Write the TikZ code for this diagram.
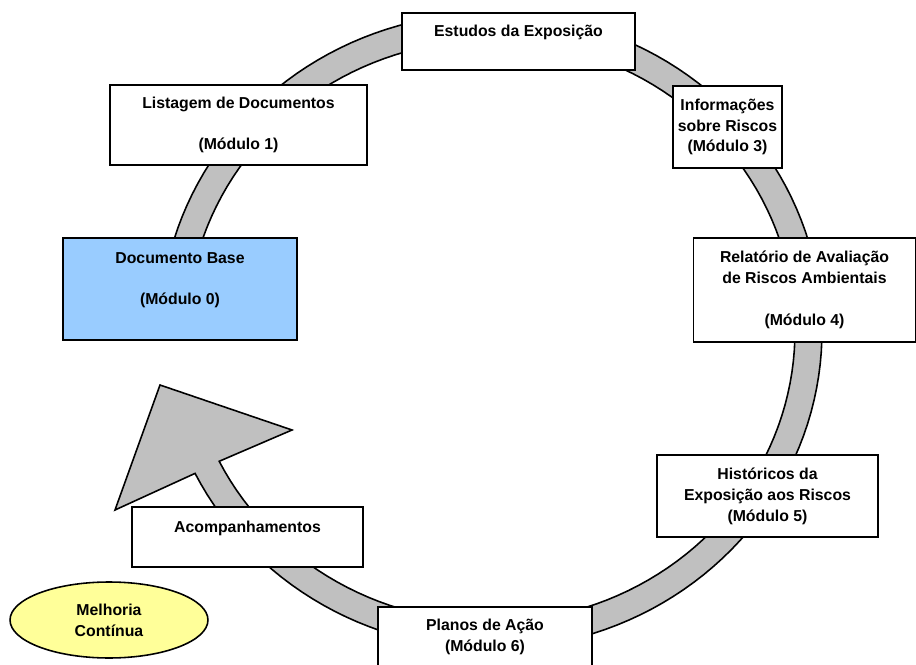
\documentclass[tikz,border=0pt]{standalone}
\usepackage{fontspec}
\setmainfont{Liberation Sans}
\usetikzlibrary{shapes.geometric}
\definecolor{ringgray}{HTML}{C0C0C0}
\definecolor{baseblue}{HTML}{99CCFF}
\definecolor{noteyellow}{HTML}{FFFF99}
\tikzset{
  modbox/.style={draw, line width=0.9pt, fill=white, align=center, inner sep=0pt,
    font=\fontsize{9}{11.9}\selectfont\bfseries},
  noteoval/.style={modbox, ellipse, fill=noteyellow}
}
\begin{document}
\begin{tikzpicture}[x=0.02cm, y=-0.02cm]

  \useasboundingbox (0,0) rectangle (916,665);

  % The ring
  \def \cx {491}
  \def \cy {331}
  \def \rxOut {331}
  \def \ryOut {318}
  \def \rxIn {304}
  \def \ryIn {291}
  \def \tStart {185.6}
  \def \tEnd {513.4}
  \filldraw[fill=ringgray, line width=0.9pt, line join=miter]
  plot[domain=\tStart:\tEnd, samples=150] ({\cx+\rxOut*cos(\x)}, {\cy+\ryOut*sin(\x)})
  -- (115,510) -- (160,385) -- (292,430)
  -- plot[domain=\tEnd:\tStart, samples=150] ({\cx+\rxIn*cos(\x)}, {\cy+\ryIn*sin(\x)})
  -- cycle;

  % Modules
  \node[modbox, minimum width=4.66cm, minimum height=1.14cm] (estudos) at (518.5,41.5)
  {Estudos da Exposição\\~};
  \node[modbox, minimum width=5.14cm, minimum height=1.6cm] (listagem) at (238.5,125)
  {Listagem de Documentos\\~\\(Módulo 1)};
  \node[modbox, minimum width=2.18cm, minimum height=1.64cm] (informacoes) at (727.5,127)
  {Informações\\sobre Riscos\\(Módulo 3)};
  \node[modbox, fill=baseblue, minimum width=4.68cm, minimum height=2.04cm] (base) at (180,289)
  {Documento Base\\~\\(Módulo 0)\\~};
  \node[modbox, minimum width=4.44cm, minimum height=2.08cm] (relatorio) at (804.5,290)
  {Relatório de Avaliação\\de Riscos Ambientais\\~\\(Módulo 4)};
  \node[modbox, minimum width=4.42cm, minimum height=1.64cm] (historicos) at (767.5,496)
  {Históricos da\\Exposição aos Riscos\\(Módulo 5)};
  \node[modbox, minimum width=4.62cm, minimum height=1.2cm] (acompanhamentos) at (247.5,537)
  {Acompanhamentos\\~};
  \node[modbox, minimum width=4.28cm, minimum height=1.2cm] (planos) at (485,637)
  {Planos de Ação\\(Módulo 6)};

  % Continuous improvement
  \node[noteoval, minimum width=3.96cm, minimum height=1.52cm] (melhoria) at (109,620)
  {Melhoria\\Contínua};

\end{tikzpicture}
\end{document}
